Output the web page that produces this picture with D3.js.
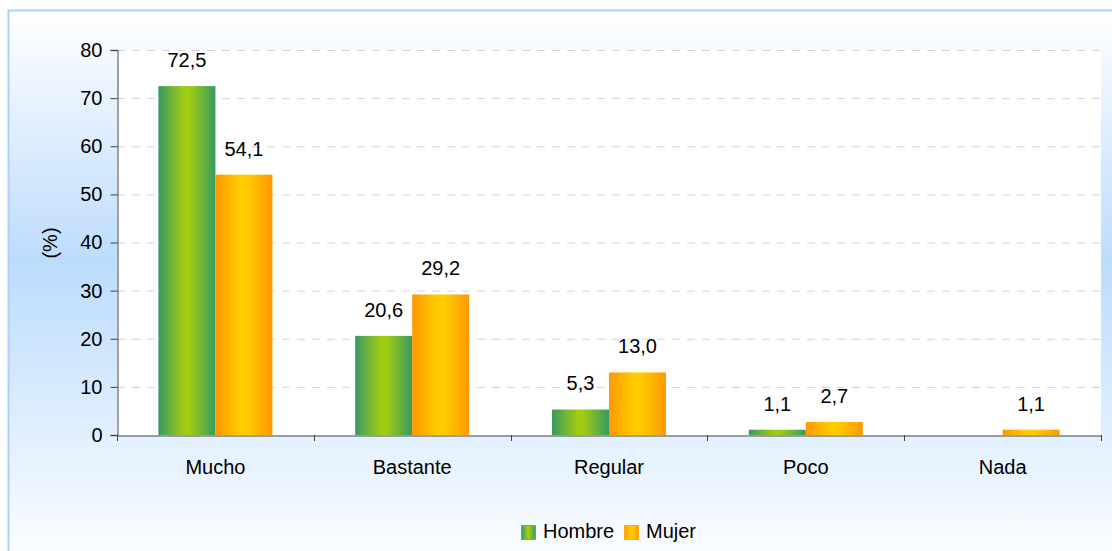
<!DOCTYPE html>
<html>
<head>
<meta charset="utf-8">
<script src="https://cdn.jsdelivr.net/npm/d3@7"></script>
<style>
  body { margin: 0; background: #fff; }
  svg { display: block; font-family: "Liberation Sans", Arial, sans-serif; }
</style>
</head>
<body>
<div id="chart"></div>
<script>
// chart data
const categories = ["Mucho", "Bastante", "Regular", "Poco", "Nada"];
const seriesNames = ["Hombre", "Mujer"];
const hombre = [72.5, 20.6, 5.3, 1.1, null];
const mujer = [54.1, 29.2, 13.0, 2.7, 1.1];
const yTicks = [0, 10, 20, 30, 40, 50, 60, 70, 80];

const width = 1112, height = 551;
const plot = { left: 117, right: 1101, top: 50, bottom: 435 };
const fontSize = 20;

const svg = d3.select("#chart").append("svg")
    .attr("width", width)
    .attr("height", height);

const defs = svg.append("defs");

// background: white at top, blue in the middle, fading to white at bottom
const bg = defs.append("linearGradient").attr("id", "bg")
    .attr("x1", 0).attr("y1", 0).attr("x2", 0).attr("y2", 1);
bg.append("stop").attr("offset", "0%").attr("stop-color", "#ffffff");
bg.append("stop").attr("offset", "45%").attr("stop-color", "#bcdcfc");
bg.append("stop").attr("offset", "100%").attr("stop-color", "#ffffff");

// bar gradients (horizontal, light in middle)
function barGradient(id, edge, mid) {
    const g = defs.append("linearGradient").attr("id", id)
        .attr("x1", 0).attr("y1", 0).attr("x2", 1).attr("y2", 0);
    g.append("stop").attr("offset", "0%").attr("stop-color", edge);
    g.append("stop").attr("offset", "45%").attr("stop-color", mid);
    g.append("stop").attr("offset", "55%").attr("stop-color", mid);
    g.append("stop").attr("offset", "100%").attr("stop-color", edge);
}
barGradient("gHombre", "#379a62", "#a0cc12");
barGradient("gMujer", "#ff9900", "#ffcc00");

svg.append("rect")
    .attr("x", 8.5).attr("y", 10.5)
    .attr("width", width + 10).attr("height", height + 10)
    .attr("fill", "url(#bg)")
    .attr("stroke", "#a9d1f9")
    .attr("stroke-width", 2);

svg.append("rect")
    .attr("x", plot.left).attr("y", plot.top)
    .attr("width", plot.right - plot.left).attr("height", plot.bottom - plot.top)
    .attr("fill", "#ffffff");

const x = d3.scaleBand()
    .domain(categories)
    .range([plot.left, plot.right]);

const inner = d3.scaleBand()
    .domain(seriesNames)
    .range([0, 114]);

const y = d3.scaleLinear()
    .domain([0, 80])
    .range([plot.bottom, plot.top]);

// gridlines
svg.append("g")
    .selectAll("line")
    .data(yTicks.filter(d => d > 0))
    .enter()
    .append("line")
    .attr("x1", plot.left).attr("x2", plot.right)
    .attr("y1", d => y(d) + 0.5).attr("y2", d => y(d) + 0.5)
    .attr("stroke", "#d4d4d4")
    .attr("stroke-dasharray", "8,7");

// y axis
const yAxis = svg.append("g")
    .attr("transform", `translate(${plot.left + 0.5},0)`)
    .call(d3.axisLeft(y).tickValues(yTicks).tickSize(7).tickPadding(8));
yAxis.select(".domain").attr("stroke", "#808080").attr("stroke-width", 1.5);
yAxis.selectAll(".tick line").attr("stroke", "#404040");
yAxis.selectAll("text")
    .attr("font-size", fontSize)
    .attr("fill", "#000");

// bars
const flat = [];
categories.forEach((c, i) => {
    flat.push({ cat: c, series: "Hombre", value: hombre[i] });
    flat.push({ cat: c, series: "Mujer", value: mujer[i] });
});
const barData = flat.filter(d => d.value != null);

const groupOffset = (x.bandwidth() - 114) / 2;

svg.append("g")
    .selectAll("rect")
    .data(barData)
    .enter()
    .append("rect")
    .attr("x", d => x(d.cat) + groupOffset + inner(d.series))
    .attr("y", d => y(d.value))
    .attr("width", inner.bandwidth())
    .attr("height", d => y(0) - y(d.value))
    .attr("fill", d => d.series === "Hombre" ? "url(#gHombre)" : "url(#gMujer)");

// value labels
svg.append("g")
    .selectAll("text")
    .data(barData)
    .enter()
    .append("text")
    .attr("x", d => x(d.cat) + groupOffset + inner(d.series) + inner.bandwidth() / 2)
    .attr("y", d => y(d.value) - 19)
    .attr("text-anchor", "middle")
    .attr("font-size", fontSize)
    .attr("fill", "#000")
    .text(d => d3.format(".1f")(d.value).replace(".", ","));

// x axis
const xAxis = svg.append("g")
    .attr("transform", `translate(0,${plot.bottom + 0.5})`)
    .call(d3.axisBottom(x).tickSize(0).tickPadding(24));
xAxis.select(".domain").attr("stroke", "#808080").attr("stroke-width", 1.5);
xAxis.selectAll("text")
    .attr("font-size", fontSize)
    .attr("fill", "#000");

// category separators
svg.append("g")
    .selectAll("line")
    .data(categories.map(c => x(c) + x.bandwidth()).concat([plot.left]))
    .enter()
    .append("line")
    .attr("x1", d => Math.round(d) + 0.5).attr("x2", d => Math.round(d) + 0.5)
    .attr("y1", plot.bottom).attr("y2", plot.bottom + 6)
    .attr("stroke", "#404040");

// y axis title
svg.append("text")
    .attr("transform", "translate(57,243) rotate(-90)")
    .attr("text-anchor", "middle")
    .attr("font-size", fontSize)
    .attr("fill", "#000")
    .text("(%)");

// legend
const legend = svg.append("g").attr("transform", "translate(521,523)");
const legendX = [0, 103];
seriesNames.forEach((s, i) => {
    const g = legend.append("g").attr("transform", `translate(${legendX[i]},0)`);
    g.append("rect")
        .attr("x", 0.5).attr("y", 2.5)
        .attr("width", 14).attr("height", 14)
        .attr("fill", i === 0 ? "url(#gHombre)" : "url(#gMujer)")
        .attr("stroke", i === 0 ? "#5cae7a" : "#ffaa22");
    g.append("text")
        .attr("x", 22).attr("y", 15)
        .attr("font-size", fontSize)
        .attr("fill", "#000")
        .text(s);
});
</script>
</body>
</html>
